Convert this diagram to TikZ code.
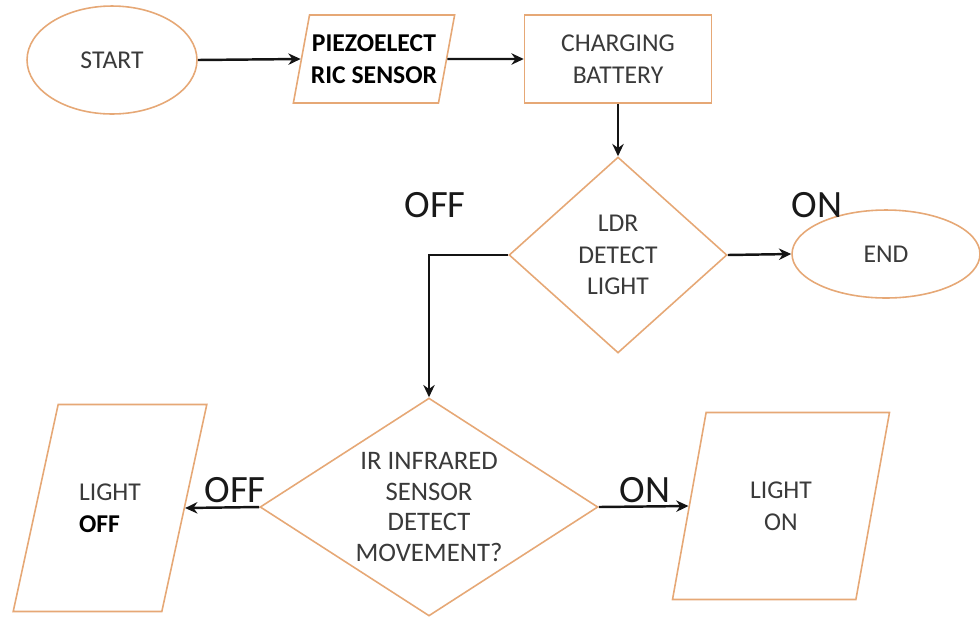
\documentclass[tikz,border=0pt]{standalone}
\usepackage{fontspec}
\setmainfont{Carlito}
\usetikzlibrary{shapes.geometric,arrows.meta,positioning}

\begin{document}
\begin{tikzpicture}[x=0.02cm,y=-0.02cm,
  box/.style={draw=cbox,line width=0.9pt,fill=white,text=ctxt,
    font=\fontsize{14.6}{18}\selectfont,align=center,inner sep=0pt},
  term/.style={box,ellipse},
  proc/.style={box,rectangle},
  io/.style={box,trapezium,trapezium stretches=true,
    trapezium left angle=#1,trapezium right angle=180-#1},
  cond/.style={box,diamond},
  flow/.style={-{Stealth[length=7pt,width=6.5pt]},line width=1.4pt,color=cline},
  tag/.style={text=ctag,font=\fontsize{22}{26}\selectfont,inner sep=0pt}]
%
\useasboundingbox (0,0) rectangle (980,620);
%
\definecolor{cbox}{RGB}{230,168,118}
\definecolor{ctxt}{RGB}{58,58,58}
\definecolor{cline}{RGB}{20,20,20}
\definecolor{ctag}{RGB}{25,25,25}
%
\node[term,minimum width=3.4cm,minimum height=2.16cm] (start) at (112,60) {START};
\node[io=72,minimum width=3.24cm,minimum height=1.76cm,text=black,font=\fontsize{14.6}{18}\selectfont\bfseries] (piezo) at (374,59) {PIEZOELECT\\RIC SENSOR};
\node[proc,minimum width=3.74cm,minimum height=1.76cm] (charge) at (618,59) {CHARGING\\BATTERY};
\node[cond,aspect=1.1,minimum width=4.36cm,minimum height=3.92cm] (ldr) at (618,255) {LDR\\DETECT\\LIGHT};
\node[term,minimum width=3.76cm,minimum height=1.76cm] (finish) at (886,254) {END};
\node[cond,aspect=1.55,minimum width=6.76cm,minimum height=4.36cm,font=\fontsize{15.2}{17.6}\selectfont] (ir) at (429,507) {IR INFRARED\\SENSOR\\DETECT\\MOVEMENT?};
\node[io=61,minimum width=3.9cm,minimum height=4.14cm,align=left] (lightoff) at (110,508) {LIGHT\\\textcolor{black}{\bfseries OFF}};
\node[io=74,minimum width=4.36cm,minimum height=3.74cm] (lighton) at (781,506) {LIGHT\\ON};
%
\node[tag] (ldroff) at (435,205) {OFF};
\node[tag] (ldron) at (817,205) {ON};
\node[tag] (iroff) at (235,490) {OFF};
\node[tag] (iron) at (645,490) {ON};
%
\draw[flow] (start.east) -- (piezo.west);
\draw[flow] (piezo.east) -- (charge.west);
\draw[flow] (charge.south) -- (ldr.north);
\draw[flow] (ldr.east) -- (finish.west);
\draw[flow] (ldr.west) -| (ir.north);
\draw[flow] (ir.west) -- (lightoff.east);
\draw[flow] (ir.east) -- (lighton.west);
%
\end{tikzpicture}
\end{document}
